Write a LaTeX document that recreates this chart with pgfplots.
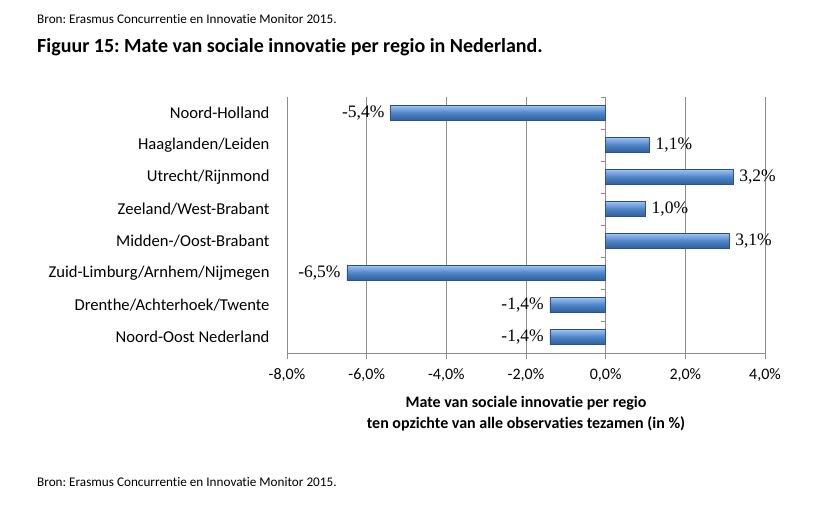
\documentclass[border=0pt]{standalone}
\usepackage{fontspec}
\setmainfont{Carlito}[Ligatures=NoCommon]
\newfontfamily\tnr{Liberation Serif}
\usepackage{pgfplots}
\pgfplotsset{compat=1.18}
\frenchspacing

\definecolor{barmid}{HTML}{4C82C6}
\definecolor{bartop}{HTML}{9EC2F0}
\definecolor{barbot}{HTML}{2F5E9E}
\definecolor{bardraw}{HTML}{2B5286}
\definecolor{gridgray}{HTML}{8C8C8C}

\begin{document}
\begin{tikzpicture}
\useasboundingbox (0,0) rectangle (814bp,522bp);
\node[anchor=base west, inner sep=0pt, font=\fontsize{13.2bp}{15bp}\selectfont] at (37bp,498bp)
  {Bron: Erasmus Concurrentie en Innovatie Monitor 2015.};
\node[anchor=base west, inner sep=0pt, font=\fontsize{20bp}{23bp}\selectfont\bfseries] at (37bp,469bp)
  {Figuur 15: Mate van sociale innovatie per regio in Nederland.};
\node[anchor=base west, inner sep=0pt, font=\fontsize{13.2bp}{15bp}\selectfont] at (37bp,36bp)
  {Bron: Erasmus Concurrentie en Innovatie Monitor 2015.};

\begin{axis}[
    at={(287bp,169bp)}, anchor=south west,
    scale only axis, width=478bp, height=256bp,
    xbar, bar width=15bp, bar shift=0pt,
    xmin=-8, xmax=4, ymin=-0.5, ymax=7.5,
    xtick={-8,-6,-4,-2,0,2,4},
    xticklabel={\pgfmathprintnumber[fixed,fixed zerofill,precision=1,use comma]{\tick}\%},
    /pgf/number format/assume math mode=true,
    ytick={0,1,2,3,4,5,6,7},
    yticklabels={Noord-Oost Nederland, Drenthe/Achterhoek/Twente, Zuid-Limburg/Arnhem/Nijmegen,
      Midden-/Oost-Brabant, Zeeland/West-Brabant, Utrecht/Rijnmond, Haaglanden/Leiden, Noord-Holland},
    axis x line*=bottom, axis y line*=left,
    y axis line style={draw=none}, ytick style={draw=none},
    x axis line style={draw=gridgray, line width=0.8pt},
    xtick style={draw=gridgray, line width=0.8pt},
    tick align=outside, major tick length=6bp,
    xmajorgrids, grid style={draw=gridgray, line width=0.8pt},
    tick label style={font=\fontsize{16bp}{18bp}\selectfont},
    yticklabel style={xshift=-8bp, font=\fontsize{16.6bp}{18bp}\selectfont},
    xticklabel style={yshift=-6bp},
    xlabel={Mate van sociale innovatie per regio\\ten opzichte van alle observaties tezamen (in \%)},
    xlabel style={align=center, font=\fontsize{16bp}{21bp}\selectfont\bfseries, yshift=-8bp},
    nodes near coords={\pgfmathprintnumber[fixed,fixed zerofill,precision=1,use comma]{\pgfplotspointmeta}\%},
    nodes near coords align=horizontal,
    every node near coord/.append style={font=\tnr\fontsize{17.5bp}{19bp}\selectfont, inner xsep=6bp},
    mybar/.style={draw=bardraw, line width=0.4pt, top color=bartop, bottom color=barbot, middle color=barmid},
    clip=false,
]
\draw[gridgray, line width=0.8pt] (axis cs:0,-0.5) -- (axis cs:0,7.5);
\pgfplotsinvokeforeach{-0.5,0.5,1.5,2.5,3.5,4.5,5.5,6.5,7.5}{
  \draw[gridgray, line width=0.8pt] (axis cs:0,#1) -- ([xshift=-5bp]axis cs:0,#1);
}
\addplot[mybar] coordinates {(-1.4,0)};
\addplot[mybar] coordinates {(-1.4,1)};
\addplot[mybar] coordinates {(-6.5,2)};
\addplot[mybar] coordinates {(3.1,3)};
\addplot[mybar] coordinates {(1.0,4)};
\addplot[mybar] coordinates {(3.2,5)};
\addplot[mybar] coordinates {(1.1,6)};
\addplot[mybar] coordinates {(-5.4,7)};
\end{axis}
\end{tikzpicture}
\end{document}
